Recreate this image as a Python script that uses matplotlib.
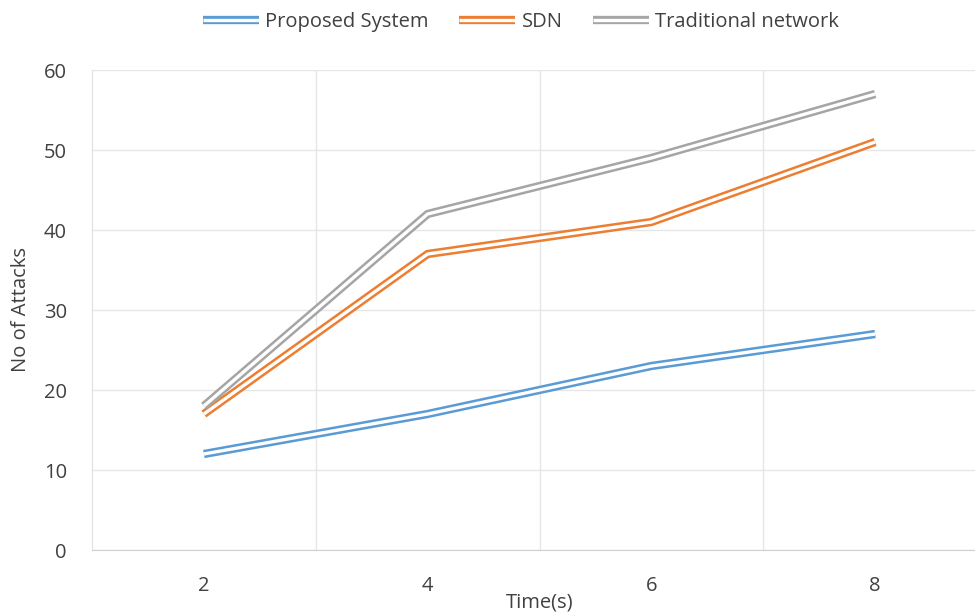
import matplotlib.pyplot as plt
import matplotlib.patheffects as pe

# 数据
times = ['2', '4', '6', '8']
proposed = [12, 17, 23, 27]
sdn = [17, 37, 41, 51]
traditional = [18, 42, 49, 57]

series = [
    ('Proposed System', proposed, '#5B9BD5'),
    ('SDN', sdn, '#ED7D31'),
    ('Traditional network', traditional, '#A5A5A5'),
]

plt.rcParams['font.family'] = ['Open Sans', 'DejaVu Sans']

fig = plt.figure(figsize=(9.75, 6.12), dpi=100)
ax = fig.add_axes([92 / 975, 1 - 550 / 612, (987 - 92) / 975, 480 / 612])

x = range(len(times))
for name, vals, color in series:
    # 双线效果：粗线加白色中线
    ax.plot(x, vals, color=color, lw=6, label=name,
            solid_joinstyle='miter', solid_capstyle='butt',
            path_effects=[pe.Normal(),
                          pe.Stroke(linewidth=2.4, foreground='white')])

ax.set_xlim(-0.5, len(times) - 0.5)
ax.set_ylim(0, 60)
ax.set_yticks(range(0, 61, 10))
ax.set_xticks(list(x))
ax.set_xticklabels(times)

# 类别边界处的竖直网格线
ax.set_xticks([i + 0.5 for i in range(len(times) - 1)], minor=True)
ax.grid(True, which='minor', axis='x', color='#E6E6E6', lw=1)
ax.grid(True, which='major', axis='y', color='#E6E6E6', lw=1)
ax.set_axisbelow(True)

for s in ['top', 'right']:
    ax.spines[s].set_visible(False)
ax.spines['left'].set_color('#E0E0E0')
ax.spines['bottom'].set_color('#D0D0D0')

ax.tick_params(which='both', length=0, labelsize=14.5, colors='#404040')
ax.tick_params(axis='x', pad=19)
ax.tick_params(axis='y', pad=18)

ax.set_xlabel('Time(s)', fontsize=14.5, color='#404040', labelpad=-3)
ax.set_ylabel('No of Attacks', fontsize=14.5, color='#404040', labelpad=9)

fig.legend(loc='center', bbox_to_anchor=(521 / 975, 1 - 22 / 612), ncol=3,
           frameon=False, fontsize=14.5, handlelength=2.8, columnspacing=1.5,
           handletextpad=0.3, labelcolor='#404040')

fig.savefig('out.png', dpi=100)
